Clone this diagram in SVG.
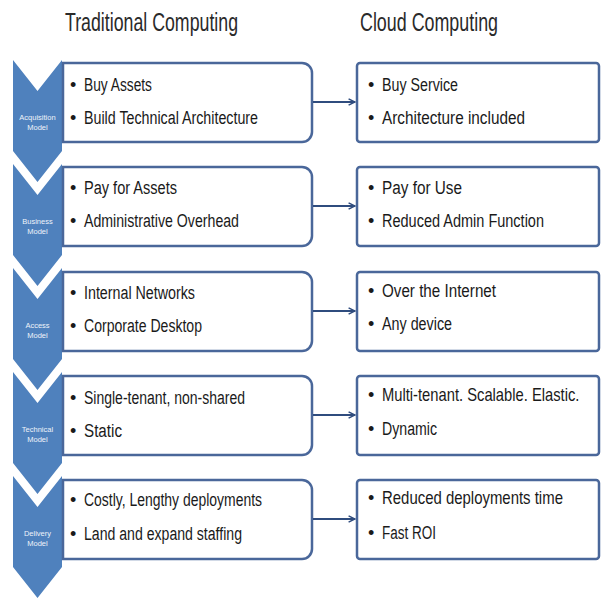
<svg xmlns="http://www.w3.org/2000/svg" width="602" height="602" viewBox="0 0 602 602">
<defs>
<style>
.chev{fill:#4f81bd;}
.clab{fill:#eef3fa;font-family:"Liberation Sans",Arial,sans-serif;font-size:7.5px;text-anchor:middle;}
.lbox{fill:#ffffff;stroke:#4a679a;stroke-width:2.5;}
.rbox{fill:#ffffff;stroke:#4a679a;stroke-width:2.5;}
.t{fill:#1a1a1a;font-family:"Liberation Sans",Arial,sans-serif;font-size:18px;}
.hd{fill:#2a2a2a;font-family:"Liberation Sans",Arial,sans-serif;font-size:25px;}
.conn{stroke:#2f4c7e;stroke-width:2;fill:none;}
</style>
<marker id="ah" viewBox="0 0 10 10" refX="9" refY="5" markerWidth="8" markerHeight="8" markerUnits="userSpaceOnUse" orient="auto">
<path d="M1,1 L9,5 L1,9" fill="none" stroke="#2f4c7e" stroke-width="1.8"/>
</marker>
</defs>
<rect x="0" y="0" width="602" height="602" fill="#ffffff"/>
<g id="headers">
<text class="hd" x="65" y="31" textLength="173" lengthAdjust="spacingAndGlyphs">Traditional Computing</text>
<text class="hd" x="360" y="31" textLength="138" lengthAdjust="spacingAndGlyphs">Cloud Computing</text>
</g>
<g id="row1">
<path class="chev" d="M13,60 L37.5,91 L62,60 L62,151 L37.5,182 L13,151 Z"/>
<text class="clab" x="37.5" y="120">Acquisition</text>
<text class="clab" x="37.5" y="130">Model</text>
<path class="lbox" d="M63,63 H302 A10,10 0 0 1 312,73 V132 A10,10 0 0 1 302,142 H63 Z"/>
<text class="t" x="70" y="91">•</text><text class="t" x="84" y="91" textLength="68" lengthAdjust="spacingAndGlyphs">Buy Assets</text>
<text class="t" x="70" y="124">•</text><text class="t" x="84" y="124" textLength="174" lengthAdjust="spacingAndGlyphs">Build Technical Architecture</text>
</g>
<g id="cloud1">
<rect class="rbox" x="357" y="63" width="242" height="79" rx="3"/>
<text class="t" x="368" y="91">•</text><text class="t" x="382" y="91" textLength="76" lengthAdjust="spacingAndGlyphs">Buy Service</text>
<text class="t" x="368" y="124">•</text><text class="t" x="382" y="124" textLength="143" lengthAdjust="spacingAndGlyphs">Architecture included</text>
</g>
<g id="row2">
<path class="chev" d="M13,164 L37.5,195 L62,164 L62,255 L37.5,286 L13,255 Z"/>
<text class="clab" x="37.5" y="224">Business</text>
<text class="clab" x="37.5" y="234">Model</text>
<path class="lbox" d="M63,167 H302 A10,10 0 0 1 312,177 V236 A10,10 0 0 1 302,246 H63 Z"/>
<text class="t" x="70" y="194">•</text><text class="t" x="84" y="194" textLength="93" lengthAdjust="spacingAndGlyphs">Pay for Assets</text>
<text class="t" x="70" y="227">•</text><text class="t" x="84" y="227" textLength="155" lengthAdjust="spacingAndGlyphs">Administrative Overhead</text>
</g>
<g id="cloud2">
<rect class="rbox" x="357" y="167" width="242" height="79" rx="3"/>
<text class="t" x="368" y="194">•</text><text class="t" x="382" y="194" textLength="80" lengthAdjust="spacingAndGlyphs">Pay for Use</text>
<text class="t" x="368" y="227">•</text><text class="t" x="382" y="227" textLength="162" lengthAdjust="spacingAndGlyphs">Reduced Admin Function</text>
</g>
<g id="row3">
<path class="chev" d="M13,268 L37.5,299 L62,268 L62,359 L37.5,390 L13,359 Z"/>
<text class="clab" x="37.5" y="328">Access</text>
<text class="clab" x="37.5" y="338">Model</text>
<path class="lbox" d="M63,272 H302 A10,10 0 0 1 312,282 V341 A10,10 0 0 1 302,351 H63 Z"/>
<text class="t" x="70" y="299">•</text><text class="t" x="84" y="299" textLength="111" lengthAdjust="spacingAndGlyphs">Internal Networks</text>
<text class="t" x="70" y="332">•</text><text class="t" x="84" y="332" textLength="118" lengthAdjust="spacingAndGlyphs">Corporate Desktop</text>
</g>
<g id="cloud3">
<rect class="rbox" x="357" y="272" width="242" height="79" rx="3"/>
<text class="t" x="368" y="297">•</text><text class="t" x="382" y="297" textLength="114" lengthAdjust="spacingAndGlyphs">Over the Internet</text>
<text class="t" x="368" y="330">•</text><text class="t" x="382" y="330" textLength="70" lengthAdjust="spacingAndGlyphs">Any device</text>
</g>
<g id="row4">
<path class="chev" d="M13,372 L37.5,403 L62,372 L62,463 L37.5,494 L13,463 Z"/>
<text class="clab" x="37.5" y="432">Technical</text>
<text class="clab" x="37.5" y="442">Model</text>
<path class="lbox" d="M63,376 H302 A10,10 0 0 1 312,386 V445 A10,10 0 0 1 302,455 H63 Z"/>
<text class="t" x="70" y="404">•</text><text class="t" x="84" y="404" textLength="161" lengthAdjust="spacingAndGlyphs">Single-tenant, non-shared</text>
<text class="t" x="70" y="437">•</text><text class="t" x="84" y="437" textLength="38" lengthAdjust="spacingAndGlyphs">Static</text>
</g>
<g id="cloud4">
<rect class="rbox" x="357" y="376" width="242" height="79" rx="3"/>
<text class="t" x="368" y="401">•</text><text class="t" transform="translate(382 401) scale(0.82 1)" x="0" y="0">Multi-tenant. Scalable. Elastic.</text>
<text class="t" x="368" y="435">•</text><text class="t" x="382" y="435" textLength="55" lengthAdjust="spacingAndGlyphs">Dynamic</text>
</g>
<g id="row5">
<path class="chev" d="M13,476 L37.5,507 L62,476 L62,567 L37.5,598 L13,567 Z"/>
<text class="clab" x="37.5" y="536">Delivery</text>
<text class="clab" x="37.5" y="546">Model</text>
<path class="lbox" d="M63,480 H302 A10,10 0 0 1 312,490 V549 A10,10 0 0 1 302,559 H63 Z"/>
<text class="t" x="70" y="506">•</text><text class="t" x="84" y="506" textLength="178" lengthAdjust="spacingAndGlyphs">Costly, Lengthy deployments</text>
<text class="t" x="70" y="540">•</text><text class="t" x="84" y="540" textLength="158" lengthAdjust="spacingAndGlyphs">Land and expand staffing</text>
</g>
<g id="cloud5">
<rect class="rbox" x="357" y="480" width="242" height="79" rx="3"/>
<text class="t" x="368" y="504">•</text><text class="t" transform="translate(382 504) scale(0.83 1)" x="0" y="0">Reduced deployments time</text>
<text class="t" x="368" y="539">•</text><text class="t" x="382" y="539" textLength="54" lengthAdjust="spacingAndGlyphs">Fast ROI</text>
</g>
<g id="connectors">
<line class="conn" x1="313" y1="102" x2="355" y2="102" marker-end="url(#ah)"/>
<line class="conn" x1="313" y1="206" x2="355" y2="206" marker-end="url(#ah)"/>
<line class="conn" x1="313" y1="311" x2="355" y2="311" marker-end="url(#ah)"/>
<line class="conn" x1="313" y1="415" x2="355" y2="415" marker-end="url(#ah)"/>
<line class="conn" x1="313" y1="519" x2="355" y2="519" marker-end="url(#ah)"/>
</g>
</svg>
